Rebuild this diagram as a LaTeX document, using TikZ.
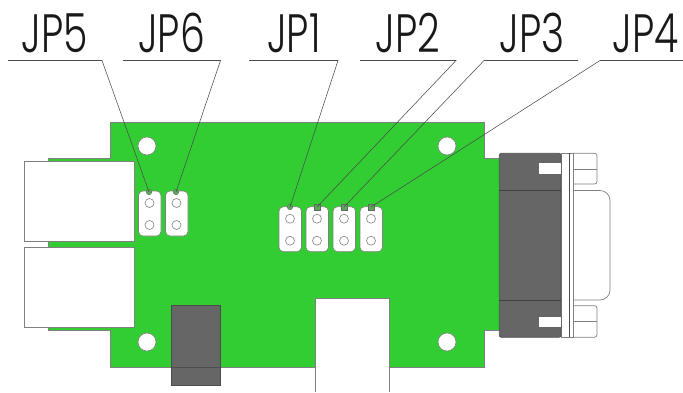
\documentclass[tikz,border=0pt]{standalone}
\usepackage{fontspec}
\newfontfamily\lblfont{Poppins}[UprightFont=* Light,FakeStretch=0.73]
\definecolor{pcb}{HTML}{32CD32}
\definecolor{shell}{HTML}{666666}
\definecolor{edge}{HTML}{808080}
\tikzset{
  x=1pt,y=-1pt,
  board/.style={fill=pcb,draw=edge,line width=0.7pt},
  whitebox/.style={fill=white,draw=edge,line width=0.9pt},
  hole/.style={circle,fill=white,draw=edge,line width=0.6pt,minimum size=18pt,inner sep=0pt},
  pinhole/.style={circle,fill=white,draw=edge,line width=0.6pt,minimum size=9pt,inner sep=0pt},
  jumper/.style={fill=white,draw=edge,line width=0.6pt,rounded corners=4.5pt},
  darkbox/.style={fill=shell,draw=black!70,line width=0.7pt},
  outline/.style={draw=edge,line width=0.7pt},
  leader/.style={draw=black!70,line width=0.55pt},
  pinmark/.style={draw=black!60,line width=0.4pt,fill=pcb!55!gray,minimum size=5.5pt,inner sep=0pt},
  lbl/.style={anchor=base,inner sep=0pt,font=\fontsize{54}{54}\selectfont,text=black!90}
}
\begin{document}
\begin{tikzpicture}
\useasboundingbox (0,0) rectangle (683,392);
% labels
\node[lbl] (l5) at (55,52) {\lblfont JP5};
\node[lbl] (l6) at (171.5,52) {\lblfont JP6};
\node[lbl] (l1) at (294,52) {\lblfont JP1};
\node[lbl] (l2) at (408,52) {\lblfont JP2};
\node[lbl] (l3) at (532,52) {\lblfont JP3};
\node[lbl] (l4) at (646,52) {\lblfont JP4};
% board
\path[board] (110,122) -- (484,122) -- (484,158) -- (500,158) -- (500,330) -- (484,330) -- (484,367) -- (110,367) -- (110,330) -- (48.5,330) -- (48.5,158.5) -- (110,158.5) -- cycle;
% RJ sockets
\path[whitebox] (24.5,161.7) rectangle (134.5,241);
\path[whitebox] (24.5,247.7) rectangle (134.5,327);
% mounting holes
\node[hole] (h1) at (147,146) {};
\node[hole] (h2) at (447,146) {};
\node[hole] (h3) at (147,342) {};
\node[hole] (h4) at (447,342) {};
% power jack
\path[darkbox] (171.5,305) rectangle (220.5,385);
\draw[black!70,line width=0.6pt] (171.5,367) -- (220.5,367);
% USB connector
\path[fill=white] (315,298.3) rectangle (389,392);
\draw[outline,line width=0.9pt] (315,392) -- (315,298.3) -- (389,298.3) -- (389,392);
% DB9 connector
\path[outline,fill=white,rounded corners=10pt] (573,190.5) -- (610,190.5) -- (610,300) -- (573,300);
\path[outline,fill=white,rounded corners=2.5pt] (573,153.3) -- (597,153.3) -- (597,184) -- (573,184);
\path[outline,fill=white,rounded corners=2.5pt] (573,305.7) -- (597,305.7) -- (597,337.3) -- (573,337.3);
\draw[outline] (573,169.3) -- (597,169.3);
\draw[outline] (573,321.7) -- (597,321.7);
\path[outline,fill=white] (561,153.3) rectangle (573,337.3);
\draw[black!70,line width=0.6pt] (569,153.3) -- (569,337.3);
\path[darkbox,draw=shell!80!black,rounded corners=2pt] (499.3,153.3) -- (561,153.3) -- (561,337.3) -- (499.3,337.3) -- cycle;
\draw[black!75,line width=0.7pt] (499.3,190.3) -- (561,190.3);
\draw[black!75,line width=0.7pt] (499.3,300) -- (561,300);
\path[fill=white,draw=black!60,line width=0.6pt] (538.7,162.7) rectangle (561,174.7);
\path[fill=white,draw=black!60,line width=0.6pt] (538.7,316) rectangle (561,327.7);
% jumpers
\foreach \xa/\ya/\n in {138.5/191/a,165.5/191/b,279/206.7/c,306/206.7/d,333/206.7/e,360/206.7/f}{
  \path[jumper] (\xa,\ya) rectangle ++(22.5,45);
  \node[pinhole] (t\n) at (\xa+11,\ya+12) {};
  \node[pinhole] (u\n) at (\xa+11,\ya+34) {};
}
% pin-1 marks
\node[pinmark,circle] (pin5) at (149,192) {};
\node[pinmark,circle] (pin6) at (176,192) {};
\node[pinmark,circle] (pin1) at (290,207) {};
\node[pinmark] (pin2) at (317,207) {};
\node[pinmark] (pin3) at (344,207) {};
\node[pinmark] (pin4) at (371,207) {};
% leaders
\coordinate (a5) at (8,60.5);   \coordinate (b5) at (102,60.5);
\coordinate (a6) at (123,60.5); \coordinate (b6) at (220.5,60.5);
\coordinate (a1) at (249,60.5); \coordinate (b1) at (338,60.5);
\coordinate (a2) at (360,60.5); \coordinate (b2) at (456,60.5);
\coordinate (a3) at (578,60.5); \coordinate (b3) at (484,60.5);
\coordinate (a4) at (683,60.5); \coordinate (b4) at (600,60.5);
\draw[leader] (a5) -- (b5) -- (pin5.center);
\draw[leader] (a6) -- (b6) -- (pin6.center);
\draw[leader] (a1) -- (b1) -- (pin1.center);
\draw[leader] (a2) -- (b2) -- (pin2.center);
\draw[leader] (a3) -- (b3) -- (pin3.center);
\draw[leader] (a4) -- (b4) -- (pin4.center);
\end{tikzpicture}
\end{document}
